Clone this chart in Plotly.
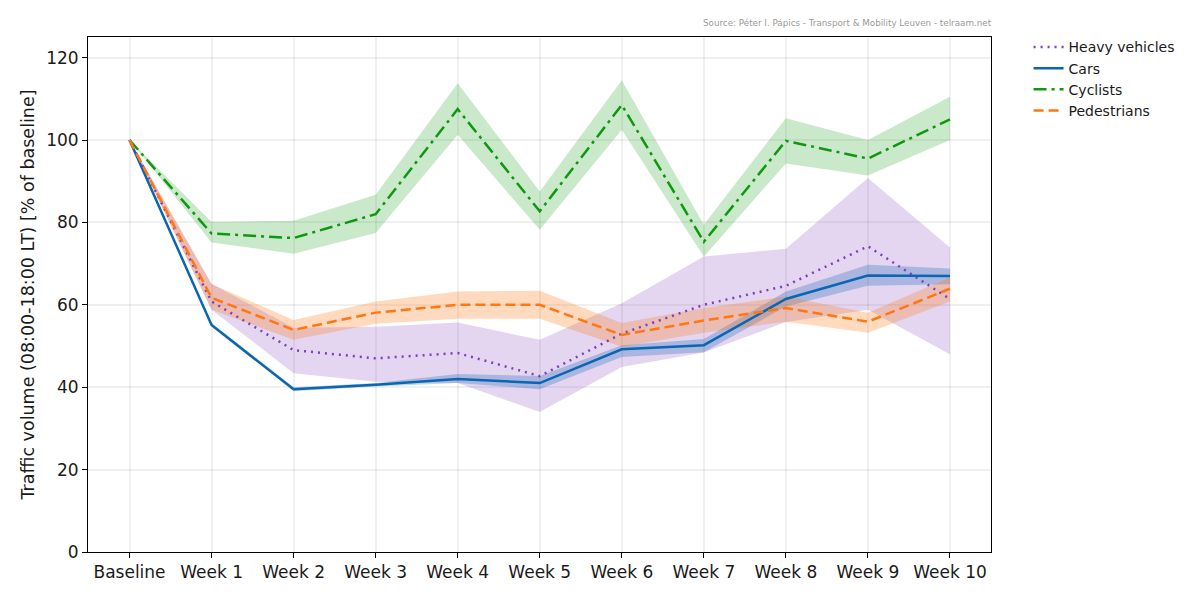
import plotly.graph_objects as go

categories = ["Baseline", "Week 1", "Week 2", "Week 3", "Week 4", "Week 5", "Week 6", "Week 7", "Week 8", "Week 9", "Week 10"]

heavy = [100, 60.8, 49, 47, 48.3, 42.7, 53, 60, 64.6, 74.2, 61.4]
heavy_hi = [100, 65.1, 54.4, 54.7, 55.7, 51.5, 60.4, 71.7, 73.6, 90.8, 73.9]
heavy_lo = [100, 58.8, 43.4, 41.3, 41, 34, 44.9, 48.4, 55.8, 58.8, 48]

cars = [100, 55.1, 39.5, 40.6, 42, 41, 49.2, 50.2, 61.4, 67.1, 67]
cars_hi = [100, 55.5, 40, 41, 43.2, 42.7, 50.2, 51.7, 63.2, 69.7, 68.8]
cars_lo = [100, 54.7, 39, 40.2, 41, 39.5, 47.3, 48.5, 59.6, 64.6, 65]

cyclists = [100, 77.3, 76.2, 82, 107.5, 82.7, 108.5, 75.3, 99.8, 95.5, 105]
cyclists_hi = [100, 80.1, 80.4, 86.7, 113.8, 87.5, 114.5, 79.4, 105.3, 100, 110.5]
cyclists_lo = [100, 75.1, 72.4, 77.4, 101.3, 78.2, 102.5, 71.7, 94.3, 91.4, 100]

pedestrians = [100, 61.7, 53.9, 58.1, 60, 60, 52.7, 56.2, 59.2, 55.9, 63.9]
pedestrians_hi = [100, 65, 56.3, 60.8, 63.2, 63.4, 55.6, 59.2, 62, 58.1, 66.6]
pedestrians_lo = [100, 58.8, 51.5, 55.4, 56.6, 56.6, 49.8, 53.2, 55.9, 53.2, 60.8]

FONT = "DejaVu Sans"
series = [
    ("Heavy vehicles", heavy, heavy_hi, heavy_lo, "#7e3fb8", "rgba(126,63,184,0.21)", "2px,5px"),
    ("Cars", cars, cars_hi, cars_lo, "#0a66b0", "rgba(20,100,180,0.28)", "solid"),
    ("Cyclists", cyclists, cyclists_hi, cyclists_lo, "#0f980f", "rgba(15,152,15,0.22)", "13px,5px,3px,5px"),
    ("Pedestrians", pedestrians, pedestrians_hi, pedestrians_lo, "#ff7710", "rgba(255,119,16,0.27)", "10px,5px"),
]

fig = go.Figure()
for name, vals, hi, lo, col, band, dash in series:
    fig.add_trace(go.Scatter(x=categories + categories[::-1], y=hi + lo[::-1], mode="lines",
                             fill="toself", fillcolor=band, line=dict(width=0),
                             showlegend=False, hoverinfo="skip"))
for name, vals, hi, lo, col, band, dash in series:
    fig.add_trace(go.Scatter(x=categories, y=vals, mode="lines", name=name,
                             line=dict(color=col, width=2.5, dash=dash)))

axis_common = dict(showgrid=True, gridcolor="rgba(0,0,0,0.06)", gridwidth=1.5, zeroline=False,
                   showline=True, linecolor="black", linewidth=1, mirror=True,
                   ticks="outside", ticklen=5, tickcolor="black", tickwidth=1,
                   tickfont=dict(family=FONT, size=17, color="#1a1a1a"))

fig.update_layout(
    width=1184, height=584,
    margin=dict(l=80, r=201, t=29, b=40, autoexpand=False),
    paper_bgcolor="white", plot_bgcolor="white",
    font=dict(family=FONT, color="#1a1a1a"),
    legend=dict(x=1.0416, y=1.011, xanchor="left", yanchor="top",
                font=dict(family=FONT, size=14, color="#1a1a1a"),
                bgcolor="rgba(0,0,0,0)", itemwidth=30, tracegroupgap=0),
    annotations=[dict(text="Source: Péter I. Pápics - Transport &amp; Mobility Leuven - telraam.net",
                      xref="paper", yref="paper", x=1, y=1.014, xanchor="right", yanchor="bottom",
                      xshift=3, showarrow=False, font=dict(family=FONT, size=8.75, color="#999999"))],
)
fig.update_xaxes(type="category", categoryorder="array", categoryarray=categories,
                 range=[-0.506, 10.5], **axis_common)
fig.update_yaxes(range=[0, 125], tickvals=[0, 20, 40, 60, 80, 100, 120],
                 title=dict(text="Traffic volume (08:00-18:00 LT) [% of baseline]",
                            font=dict(family=FONT, size=17.5, color="#1a1a1a"), standoff=7),
                 **axis_common)

fig.write_html("out.html", config=dict(displayModeBar=False))
